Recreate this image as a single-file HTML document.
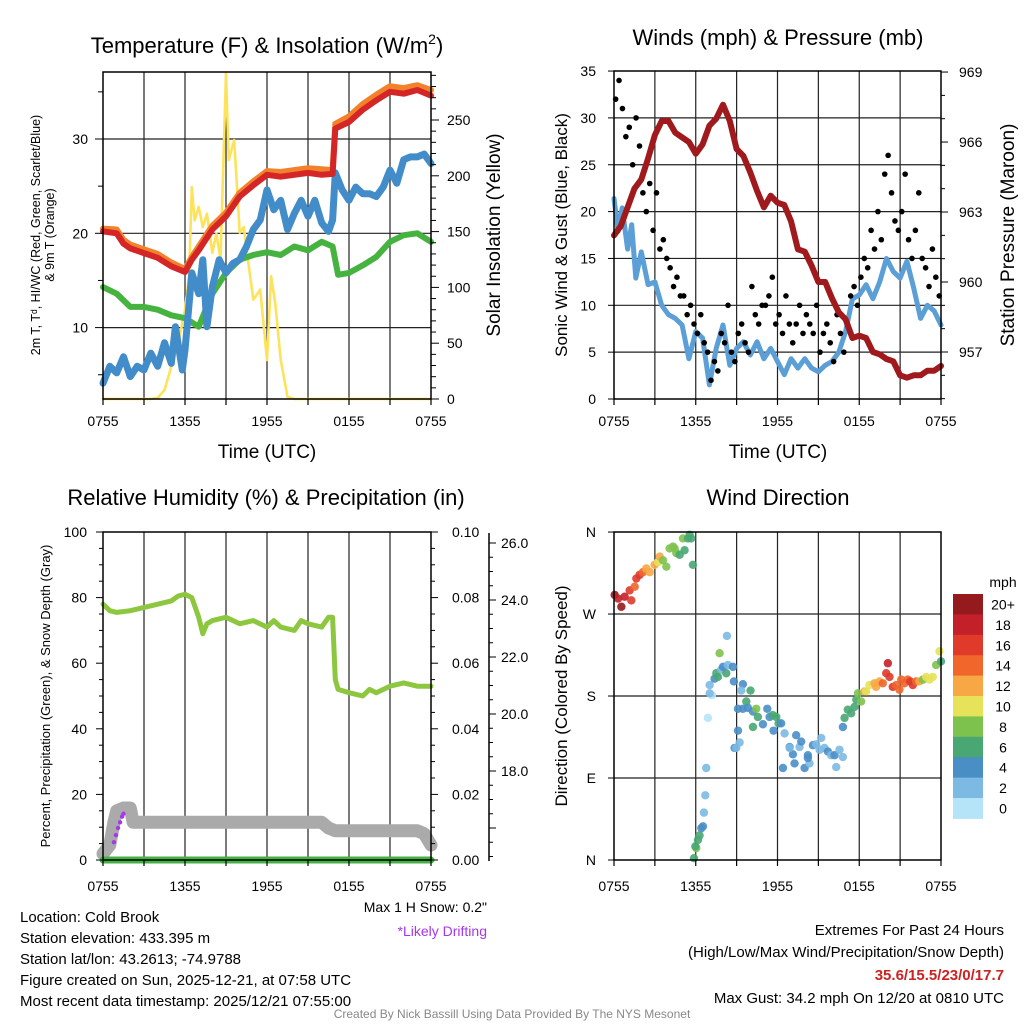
<!DOCTYPE html>
<html><head><meta charset="utf-8"><style>
body{margin:0;background:#fff}
svg{display:block;font-family:"Liberation Sans",sans-serif}
</style></head><body>
<svg id="c" width="1024" height="1024" viewBox="0 0 1024 1024"></svg>
<script>
// ---------- Panel 1: temperature ----------
const tHours=[0,1,1.5,2,3,4,5,6,6.5,7,8,9,10,11,12,13,14,15,16,16.8,17,18,19,20,21,22,23,24];
const tempVals=[20.2,20.0,18.9,18.4,17.9,17.4,16.5,15.9,17.2,18.2,20.4,21.8,23.9,25.1,26.2,26.0,26.2,26.4,26.2,26.3,31.1,31.8,33.1,34.1,35.0,34.8,35.2,34.6];
const temp9mVals=[20.5,20.4,19.3,18.8,18.3,17.8,16.9,16.2,17.5,18.6,20.8,22.2,24.3,25.5,26.6,26.5,26.7,26.9,26.8,26.7,31.6,32.4,33.7,34.7,35.6,35.4,35.7,35.2];
const tdHours=[0,1,2,3,4,5,6,7,8,9,10,11,12,13,14,15,16,16.8,17.2,18,19,20,21,22,23,24];
const dewVals=[14.3,13.6,12.2,12.2,11.9,11.3,11.0,10.1,13.6,15.8,17.2,17.7,18.0,17.7,18.6,18.2,19.1,18.6,15.6,15.8,16.6,17.5,19.1,19.8,20.0,19.1];
const wcHours=[0,0.5,1,1.5,2,2.5,3,3.5,4,4.5,5,5.3,5.8,6,6.5,7,7.3,7.6,8,8.5,9,9.5,10,10.5,11,11.5,12,12.5,13,13.5,14,14.5,15,15.5,16,16.5,16.8,17,17.5,18,18.5,19,19.5,20,20.5,21,21.5,22,22.5,23,23.5,24];
const wcVals=[4.1,5.9,5.2,6.9,4.8,5.9,5.5,7.3,5.9,8.4,6.2,10.1,5.5,7.6,15.8,13.6,17.2,10.1,14.3,17.2,15.8,16.8,17.2,18.6,20.4,21.4,24.6,22.5,23.5,20.4,22.1,23.5,21.8,23.5,21.1,20.2,21.4,26.4,24.6,23.5,24.9,24.2,24.2,23.9,24.9,26.7,25.3,27.8,28.1,28.1,28.4,27.4];
const solHours=[0,3.5,4,4.5,5,5.5,6,6.3,6.5,6.7,7,7.3,7.6,8,8.3,8.6,9,9.2,9.6,10,10.3,10.6,11,11.5,12,12.3,12.6,13,13.5,14,24];
const solVals=[0,0,1,8,29,50,80,110,190,160,172,154,166,131,148,125,292,214,232,149,154,125,89,98,35,110,86,35,2,0,0];
// ---------- Panel 2: winds ----------
const presHours=[0,0.5,1,1.5,2,2.5,3,3.5,4,4.5,5,5.5,6,6.5,7,7.5,8,8.5,9,9.5,10,10.5,11,11.5,12,12.5,13,13.5,14,14.5,15,15.5,16,16.5,17,17.5,18,18.5,19,19.5,20,20.5,21,21.5,22,22.5,23,23.5,24];
const presVals=[962.0,962.4,963.2,964.0,964.4,965.3,966.3,966.9,966.9,966.4,966.2,966.0,965.5,965.9,966.7,967.0,967.6,966.9,965.7,965.4,964.7,963.9,963.2,963.7,963.4,963.3,962.6,961.4,961.3,960.7,960.0,960.0,959.3,958.7,958.4,957.6,957.7,957.6,957.0,956.9,956.7,956.6,956.0,955.9,956.0,956.0,956.2,956.2,956.4];
const windHours=[0,0.3,0.6,1,1.3,1.6,2,2.5,3,3.5,4,4.5,5,5.5,6,6.5,7,7.5,8,8.5,9,9.5,10,10.5,11,11.5,12,12.5,13,13.5,14,14.5,15,15.5,16,16.5,17,17.5,18,18.5,19,19.5,20,20.5,21,21.5,22,22.5,23,23.5,24];
const windVals=[21.4,17.9,20.4,16.0,18.6,12.9,15.7,12.2,12.5,10.0,9.0,8.6,7.9,4.3,7.2,6.5,1.5,5.4,7.9,3.6,5.4,6.1,4.7,6.1,4.3,5.4,4.0,2.6,4.3,3.3,4.3,3.3,2.9,3.6,4.0,5.0,7.2,10.7,11.1,12.2,10.7,12.5,15.0,13.6,12.9,14.7,11.8,8.6,10.0,9.4,7.9];
const gustVals=[32,34,31,28,29,25,30,27,22,20,23,18,22,16,17,15,14,12,13,11,11,9,10,8,7,9,6,5,2,4,3,7,6,10,5,4,7,8,6,5,12,9,8,10,10,11,13,8,9,7,11,8,6,8,10,7,9,8,7,10,5,7,8,6,4,9,7,5,8,11,12,10,13,15,14,18,16,20,17,24,26,22,19,18,20,24,17,15,18,22,15,14,12,16,13,11];
// ---------- Panel 3: humidity / snow ----------
const rhHours=[0,0.5,1,2,3,4,5,5.5,6,6.5,7,7.3,7.6,8,9,10,11,12,12.5,13,14,14.5,15,16,16.5,16.8,17,17.2,18,19,19.5,20,21,22,23,24];
const rhVals=[78,76,75.5,76,77,78,79,80.5,81,80,74,69,72,73,74,72,73,71,73,71,70,73,72,71,74,74,55,52,51,50,52,51,53,54,53,53];
const snowHours=[0,0.5,0.8,1,1.5,2,2.2,3,6,9,12,15,16,16.5,17,20,23,23.5,24];
const snowVals=[15.1,15.4,16.2,16.6,16.7,16.7,16.2,16.2,16.2,16.2,16.2,16.2,16.2,16.0,15.9,15.9,15.9,15.8,15.4];
const driftHours=[0.8,0.95,1.1,1.25,1.4,1.5];
const driftVals=[15.5,15.75,16.0,16.2,16.4,16.5];
const precipVals=[0,0];
// ---------- Panel 4: wind direction ----------
const dirHours=[0.05,0.3,0.54,0.78,1.15,1.27,1.52,1.64,1.88,2.13,2.37,2.62,2.98,3.23,3.35,3.59,3.84,4.08,4.33,4.45,4.57,4.82,5.06,5.18,5.43,5.55,5.67,5.79,
5.87,6.04,6.16,5.97,6.28,6.53,6.41,6.6,6.7,6.77,6.89,7.19,7.02,7.02,7.38,7.63,7.51,7.87,8.24,8.0,7.75,8.36,8.73,8.29,8.8,9.46,9.34,10.02,9.1,9.46,9.71,9.83,10.2,10.44,10.56,10.93,11.25,11.42,11.66,11.91,12.08,11.71,12.27,10.2,9.1,9.22,8.85,8.97,
12.4,12.52,12.89,13.13,13.37,13.62,13.74,13.99,14.23,14.35,14.6,14.84,15.09,15.21,15.45,15.7,15.94,16.19,16.31,16.55,16.8,13.25,14.23,12.89,
16.8,16.92,17.16,17.41,17.65,17.78,17.9,18.14,18.39,18.51,18.75,19.12,19.24,19.49,19.73,19.98,20.22,20.46,20.71,21.08,20.95,21.32,21.56,21.74,21.93,22.17,22.42,22.67,22.91,23.15,23.4,23.64,23.89,24.0,20.1];
const dirVals=[291,287,278,289,296,285,300,309,313,316,320,316,324,327,333,329,322,342,344,342,337,335,353,340,353,357,353,324,
2,13,22,15,27,37,35,52,71,101,156,181,183,192,199,201,205,209,205,212,227,214,212,246,196,193,186,186,166,166,174,167,163,166,157,149,166,157,159,157,150,142,150,146,142,129,123,123,101,
139,124,116,137,124,130,101,115,106,126,127,121,134,123,119,115,115,102,121,113,106,112,123,146,
156,165,161,168,176,183,174,185,185,192,194,190,196,194,205,201,190,192,198,187,194,198,196,192,196,196,198,201,198,201,214,229,218,216,205];
const dirSpeeds=[20,19,20,18,17,16,15,17,16,14,13,12,12,10,12,9,8,8,8,8,8,7,8,7,7,6,6,6,
6,8,6,6,7,4,4,2,2,2,1,1,2,2,4,6,6,3,6,4,8,2,4,2,4,4,2,6,4,4,6,5,5,8,6,4,4,4,6,6,6,4,5,6,4,3,4,3,
4,3,4,4,4,3,4,4,4,3,4,3,2,2,3,4,3,4,3,3,3,4,4,2,
4,6,6,6,6,7,8,8,12,11,10,12,13,12,14,16,17,16,15,14,14,14,14,17,16,14,13,9,10,10,10,8,10,7,18];
const speedBins=["0","2","4","6","8","10","12","14","16","18","20+"];
const speedColors=["#b5e3f8","#7cb9e3","#4a8ec6","#48a773","#7ec24e","#e6e25a","#f7a744","#f0662b","#df3a2a","#c3202a","#941a1d"];
const timeLabels=["0755","1355","1955","0155","0755"];
const dirLabels=["N","W","S","E","N"];

const NS="http://www.w3.org/2000/svg";
const svg=document.getElementById('c');
function el(tag,attrs,parent,txt){const e=document.createElementNS(NS,tag);for(const k in attrs)e.setAttribute(k,attrs[k]);if(txt!==undefined)e.textContent=txt;(parent||svg).appendChild(e);return e;}
function grp(name){const g=el('g',{});return g;}
function txt(g,x,y,s,size,anchor,extra){const t=el('text',Object.assign({x:x,y:y,'font-size':size,'text-anchor':anchor||'middle',fill:'#000'},extra||{}),g,s);return t;}
function vtxt(g,x,y,s,size){return el('text',{x:0,y:0,'font-size':size,'text-anchor':'middle',fill:'#000',transform:`translate(${x},${y}) rotate(-90)`},g,s);}
function path(g,hs,vs,xf,yf,color,w,name){let d='';for(let i=0;i<hs.length;i++)d+=(i?'L':'M')+xf(hs[i]).toFixed(1)+','+yf(vs[i]).toFixed(1);const p=el('path',{d:d,fill:'none',stroke:color,'stroke-width':w,'stroke-linejoin':'round','stroke-linecap':'round'},g);return p;}

function frame(g,L,R,T,B,hlines){
  for(let h=3;h<24;h+=3){const x=L+(R-L)*h/24;el('line',{x1:x,y1:T,x2:x,y2:B,stroke:'#222','stroke-width':1.2},g);}
  hlines.forEach(y=>el('line',{x1:L,y1:y,x2:R,y2:y,stroke:'#222','stroke-width':1.2},g));
}
function border(g,L,R,T,B){el('rect',{x:L,y:T,width:R-L,height:B-T,fill:'none',stroke:'#000','stroke-width':1.5},g);
  for(let h=0;h<=24;h+=3){const x=L+(R-L)*h/24;el('line',{x1:x,y1:B,x2:x,y2:B+6,stroke:'#000','stroke-width':1.2},g);}
  timeLabels.forEach((s,i)=>{txt(g,L+(R-L)*i/4,B+ (B>500?31:27),s,14);});
}

// ===== Panel 1 =====
{const g=grp('temperature-panel');
const L=103,R=431,T=72,B=399;
const xf=h=>L+(R-L)*h/24, yf=v=>139+(30-v)*9.43, ysf=u=>399-u*1.116;
frame(g,L,R,T,B,[yf(10),yf(20),yf(30)]);
path(g,solHours,solVals,xf,ysf,'#fde35c',2.6,'insolation-line');
path(g,tdHours,dewVals,xf,yf,'#46b340',6,'dewpoint-line');
path(g,wcHours,wcVals,xf,yf,'#428dc9',7,'windchill-line');
path(g,tHours,temp9mVals,xf,yf,'#f3812b',6,'temp-9m-line');
path(g,tHours,tempVals,xf,yf,'#d42527',6,'temp-2m-line');
border(g,L,R,T,B);
for(let v=5;v<=35;v+=5){const y=yf(v);el('line',{x1:L-(v%10?5:8),y1:y,x2:L,y2:y,stroke:'#000'},g);if(v%10==0)txt(g,L-15,y+5,String(v),14,'end');}
for(let u=0;u<=290;u+=10){const y=ysf(u);el('line',{x1:R,y1:y,x2:R+(u%50?5:8),y2:y,stroke:'#000'},g);if(u%50==0)txt(g,R+16,y+5,String(u),14,'start');}
const t=txt(g,267,53,'',22);
el('tspan',{},t,'Temperature (F) & Insolation (W/m');el('tspan',{dy:-9,'font-size':14},t,'2');el('tspan',{dy:9},t,')');
txt(g,267,458,'Time (UTC)',19);
el('text',{x:0,y:0,'font-size':12.5,'text-anchor':'middle',transform:'translate(40,235) rotate(-90)'},g,'2m T, T\u1D48, HI/WC (Red, Green, Scarlet/Blue)');
vtxt(g,54,235,'& 9m T (Orange)',12.5);
vtxt(g,500,235,'Solar Insolation (Yellow)',19);
}
// ===== Panel 2 =====
{const g=grp('winds-panel');
const L=614,R=941,T=71,B=399;
const xf=h=>L+(R-L)*h/24, yf=v=>399-v*9.37, ypf=p=>352-(p-957)*23.33;
frame(g,L,R,T,B,[5,10,15,20,25,30].map(yf));
path(g,windHours,windVals,xf,yf,'#5b9fd6',5,'sonic-wind-line');
gustVals.forEach((v,i)=>{const c=el('circle',{cx:xf(i*0.25+0.12),cy:yf(v),r:2.8,fill:'#000'},g);});
path(g,presHours,presVals,xf,ypf,'#a0191d',6,'pressure-line');
border(g,L,R,T,B);
for(let v=0;v<=35;v+=5){const y=yf(v);el('line',{x1:L-6,y1:y,x2:L,y2:y,stroke:'#000'},g);txt(g,L-18,y+5,String(v),14,'end');}
for(let p=955;p<=969;p++){const y=ypf(p);el('line',{x1:R,y1:y,x2:R+((p-957)%3?4:7),y2:y,stroke:'#000'},g);if((p-957)%3==0)txt(g,R+18,y+5,String(p),14,'start');}
txt(g,778,45,'Winds (mph) & Pressure (mb)',22);
txt(g,778,458,'Time (UTC)',19);
vtxt(g,567,235,'Sonic Wind & Gust (Blue, Black)',17);
vtxt(g,1014,235,'Station Pressure (Maroon)',19);
}
// ===== Panel 3 =====
{const g=grp('humidity-panel');
const L=103,R=431,T=532,B=860;
const xf=h=>L+(R-L)*h/24, yf=v=>860-v*3.28, ysf=s=>543+(26-s)*28.5, ypf=p=>860-p*3280;
frame(g,L,R,T,B,[]);
path(g,snowHours,snowVals,xf,ysf,'#aaaaaa',13,'snow-depth-line');
path(g,[0,24],precipVals,xf,ypf,'#45b043',7,'precip-line');
driftHours.forEach((h,i)=>{const c=el('circle',{cx:xf(h),cy:ysf(driftVals[i]),r:2.2,fill:'#a537ec'},g);});
path(g,rhHours,rhVals,xf,yf,'#8dc63f',5,'rh-line');
border(g,L,R,T,B);
for(let v=0;v<=100;v+=5){const y=yf(v);el('line',{x1:L-(v%20?4:7),y1:y,x2:L,y2:y,stroke:'#000'},g);el('line',{x1:R,y1:y,x2:R+(v%20?4:7),y2:y,stroke:'#000'},g);if(v%20==0){txt(g,L-16,y+5,String(v),14,'end');txt(g,R+21,y+5,(v/1000).toFixed(2),14,'start');}}
el('line',{x1:489,y1:533,x2:489,y2:861,stroke:'#000','stroke-width':1.5},g);
for(let s=15;s<=26.2;s+=0.5){const y=ysf(s);if(y<533||y>861)continue;el('line',{x1:489,y1:y,x2:489+(s%2==0?7:4),y2:y,stroke:'#000'},g);if(s%2==0&&s>=18)txt(g,501,y+5,s.toFixed(1),14,'start');}
txt(g,266,505,'Relative Humidity (%) & Precipitation (in)',22);
vtxt(g,50,696,'Percent, Precipitation (Green), & Snow Depth (Gray)',13);
txt(g,487,912,'Max 1 H Snow: 0.2"',14,'end');
txt(g,487,936,'*Likely Drifting',14,'end',{fill:'#a537ec'});
}
// ===== Panel 4 =====
{const g=grp('wind-direction-panel');
const L=614,R=941,T=532,B=860;
const xf=h=>L+(R-L)*h/24, yf=d=>860-d*0.911;
frame(g,L,R,T,B,[yf(90),yf(180),yf(270)]);
const bin=s=>Math.min(10,Math.max(0,Math.floor(s/2)));
dirHours.forEach((h,i)=>{const c=el('circle',{cx:xf(h),cy:yf(dirVals[i]),r:4.2,fill:speedColors[bin(dirSpeeds[i])],'fill-opacity':0.9},g);});
border(g,L,R,T,B);
dirLabels.forEach((s,i)=>{const y=yf(360-i*90);el('line',{x1:L-6,y1:y,x2:L,y2:y,stroke:'#000'},g);txt(g,L-18,y+5,s,14,'end');});
txt(g,778,505,'Wind Direction',22);
vtxt(g,567,696,'Direction (Colored By Speed)',17);
const cb=grp('speed-colorbar');
txt(cb,1003,587,'mph',14);
for(let i=0;i<11;i++){const y=594+i*20.4;el('rect',{x:953,y:y,width:30,height:20.9,fill:speedColors[10-i]},cb);txt(cb,1003,y+15.5,speedBins[10-i],14);}
}
// ===== Footer =====
{const g=grp('footer-info');
["Location: Cold Brook","Station elevation: 433.395 m","Station lat/lon: 43.2613; -74.9788","Figure created on Sun, 2025-12-21, at 07:58 UTC","Most recent data timestamp: 2025/12/21 07:55:00"].forEach((s,i)=>txt(g,20,922+i*21,s,15,'start'));
txt(g,1004,935,'Extremes For Past 24 Hours',15,'end');
txt(g,1004,957,'(High/Low/Max Wind/Precipitation/Snow Depth)',15,'end');
txt(g,1004,980,'35.6/15.5/23/0/17.7',15,'end',{fill:'#cc2222','font-weight':'bold'});
txt(g,1004,1003,'Max Gust: 34.2 mph On 12/20 at 0810 UTC',15,'end');
txt(g,512,1018,'Created By Nick Bassill Using Data Provided By The NYS Mesonet',12,'middle',{fill:'#888'});
}
</script>
</body></html>
